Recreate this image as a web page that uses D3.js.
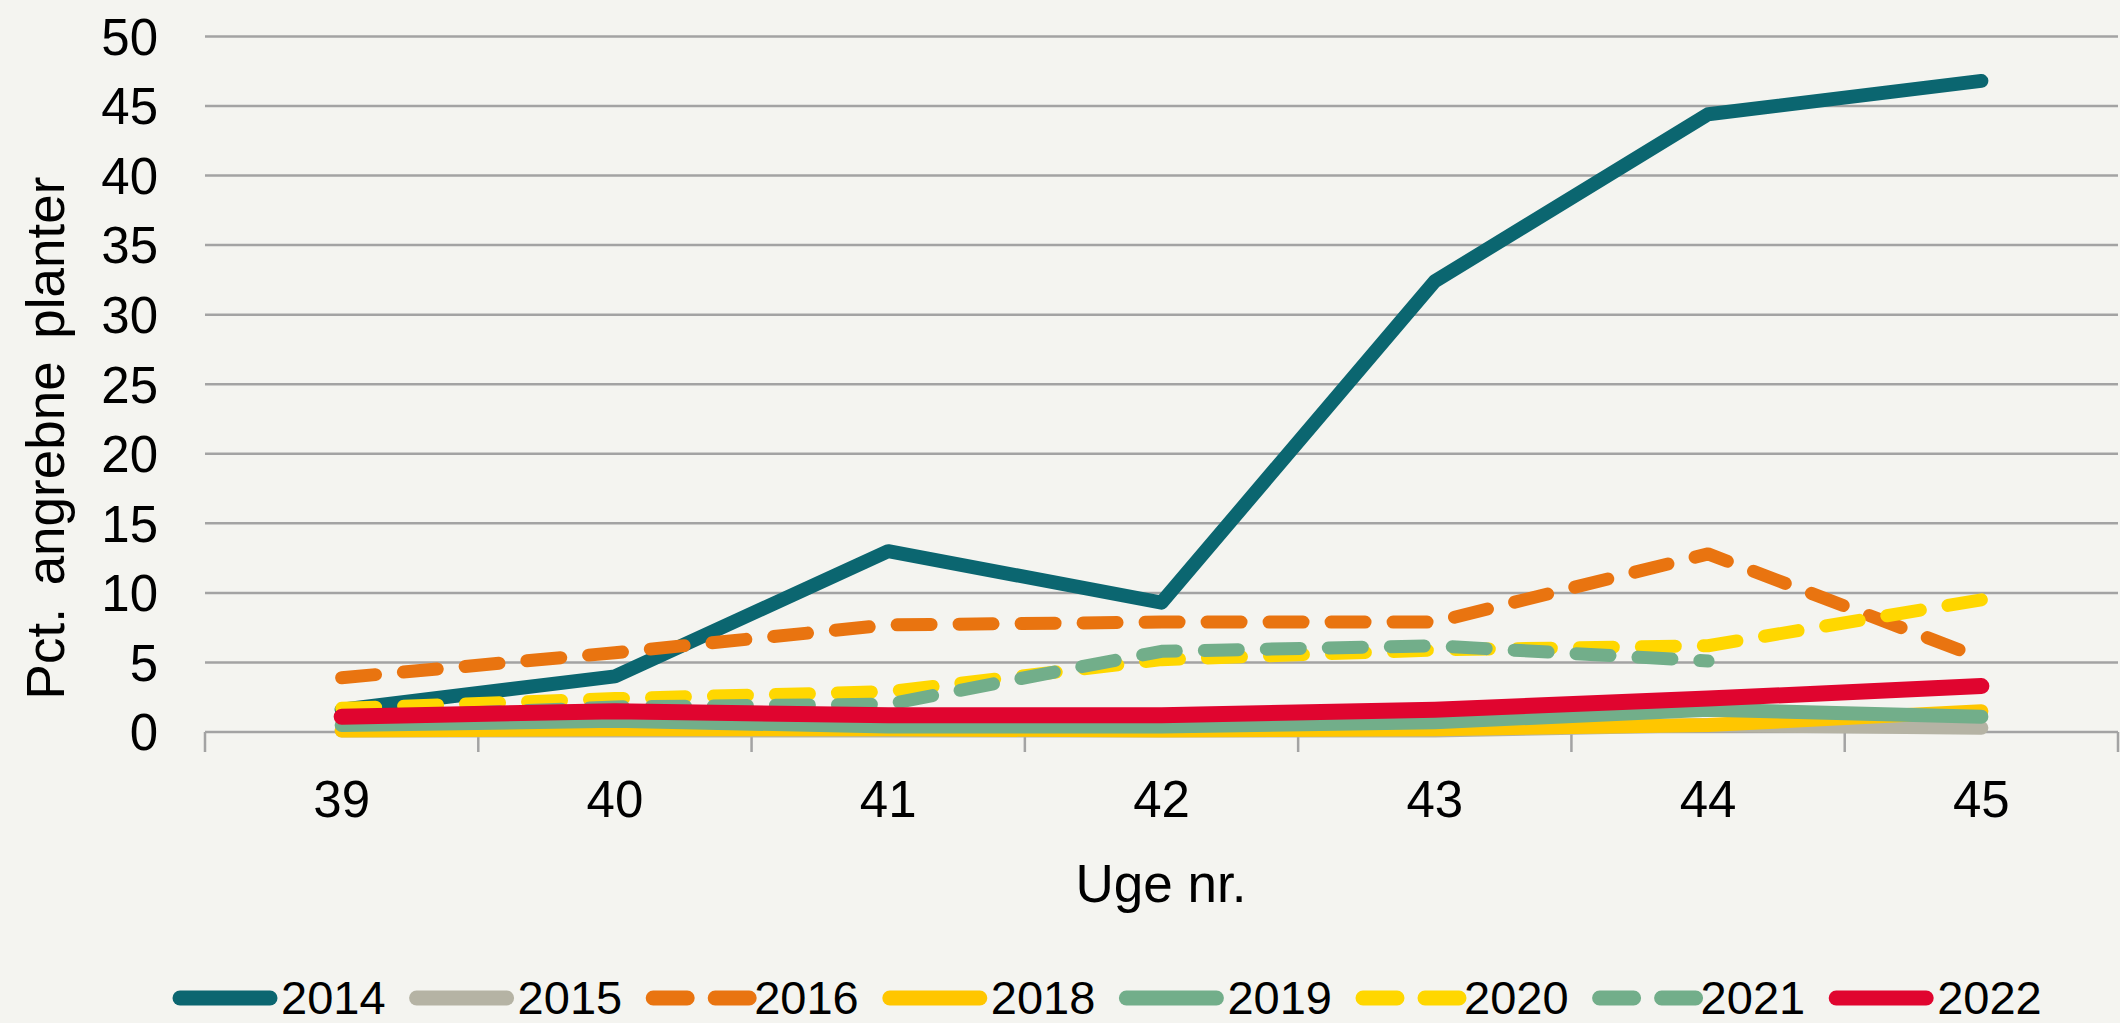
<!DOCTYPE html>
<html>
<head>
<meta charset="utf-8">
<script src="https://cdn.jsdelivr.net/npm/d3@7"></script>
<style>
  html, body { margin: 0; padding: 0; background: #f4f4f0; }
  svg { display: block; }
  text { font-family: "Liberation Sans", Arial, sans-serif; fill: #000; }
</style>
</head>
<body>
<svg width="2120" height="1023"></svg>
<script>

// uge numre (x-akse)
var weeks = ["39", "40", "41", "42", "43", "44", "45"];
var yTicks = [0, 5, 10, 15, 20, 25, 30, 35, 40, 45, 50];
var years = ["2014", "2015", "2016", "2018", "2019", "2020", "2021", "2022"];

// pct. angrebne planter pr. uge
var v2014 = [1.6, 4.0, 13.0, 9.3, 32.4, 44.4, 46.8];
var v2015 = [0.1, 0.1, 0.1, 0.1, 0.1, 0.5, 0.3];
var v2016 = [3.9, 5.7, 7.7, 7.9, 7.9, 12.8, 5.3];
var v2018 = [0.1, 0.2, 0.2, 0.1, 0.2, 0.5, 1.5];
var v2019 = [0.5, 0.8, 0.4, 0.4, 0.7, 1.6, 1.1];
var v2020 = [1.7, 2.4, 2.9, 5.2, 5.9, 6.2, 9.5];
var v2021 = [1.0, 1.8, 2.0, 5.8, 6.2, 5.1, null];
var v2022 = [1.1, 1.5, 1.2, 1.2, 1.6, 2.4, 3.3];

var colors = ["#0b6670", "#b5b3a4", "#e97410", "#ffc600", "#72ae8a", "#ffd700", "#72ae8a", "#e0052f"];
var dashed = [false, false, true, false, false, true, true, false];
var widths = [14, 14, 13, 14, 14, 13, 13, 16];

var series = [v2014, v2015, v2016, v2018, v2019, v2020, v2021, v2022].map(function (vals, i) {
    return {year: years[i], values: vals, color: colors[i], dash: dashed[i], w: widths[i]};
});

var svg = d3.select("svg"),
        pLeft = 205, pRight = 2118, pTop = 36.4, pBottom = 732;

var x = d3.scaleBand().domain(weeks).range([pLeft, pRight]).paddingInner(0).paddingOuter(0);
var y = d3.scaleLinear().domain([0, 50]).range([pBottom, pTop]);

// gitterlinjer
svg.append("g")
        .selectAll("line")
        .data(yTicks)
        .enter().append("line")
        .attr("x1", pLeft)
        .attr("x2", pRight)
        .attr("y1", function (d) { return y(d); })
        .attr("y2", function (d) { return y(d); })
        .style("stroke", "#a3a3a3")
        .style("stroke-width", 2.5);

// y-akse labels
svg.append("g")
        .selectAll("text")
        .data(yTicks)
        .enter().append("text")
        .attr("x", 158)
        .attr("y", function (d) { return y(d); })
        .attr("dy", "0.36em")
        .attr("text-anchor", "end")
        .style("font-size", "51px")
        .text(function (d) { return d; });

// x-akse tick marks ved kategorigrænser
var bounds = weeks.map(function (w) { return x(w); }).concat([pRight]);
svg.append("g")
        .selectAll("line")
        .data(bounds)
        .enter().append("line")
        .attr("x1", function (d) { return d; })
        .attr("x2", function (d) { return d; })
        .attr("y1", pBottom)
        .attr("y2", pBottom + 20)
        .style("stroke", "#a3a3a3")
        .style("stroke-width", 2.5);

svg.append("g")
        .selectAll("text")
        .data(weeks)
        .enter().append("text")
        .attr("x", function (d) { return x(d) + x.bandwidth() / 2; })
        .attr("y", 817)
        .attr("text-anchor", "middle")
        .style("font-size", "51px")
        .text(function (d) { return d; });

// akse titler
svg.append("text")
        .attr("x", 1161)
        .attr("y", 902)
        .attr("text-anchor", "middle")
        .style("font-size", "53px")
        .text("Uge nr.");

svg.append("text")
        .attr("transform", "translate(64,438) rotate(-90)")
        .attr("text-anchor", "middle")
        .style("font-size", "53px")
        .style("word-spacing", "8px")
        .text("Pct. angrebne planter");

// linjer
var line = d3.line()
        .defined(function (d) { return d != null; })
        .x(function (d, i) { return x(weeks[i]) + x.bandwidth() / 2; })
        .y(function (d) { return y(d); });

svg.append("g")
        .selectAll("path")
        .data(series)
        .enter().append("path")
        .attr("d", function (d) { return line(d.values); })
        .style("fill", "none")
        .style("stroke", function (d) { return d.color; })
        .style("stroke-width", function (d) { return d.w; })
        .style("stroke-linecap", "round")
        .style("stroke-linejoin", "round")
        .style("stroke-dasharray", function (d) { return d.dash ? "34,28" : null; });

// legend
var legend = svg.append("g")
        .selectAll("g")
        .data(series)
        .enter().append("g")
        .attr("transform", function (d, i) { return "translate(" + (180 + i * 236.6) + ",998)"; });

legend.append("line")
        .attr("x1", 0)
        .attr("x2", function (d) { return d.dash ? 96 : 90; })
        .attr("y1", 0)
        .attr("y2", 0)
        .style("stroke", function (d) { return d.color; })
        .style("stroke-width", 15)
        .style("stroke-linecap", "round")
        .style("stroke-dasharray", function (d) { return d.dash ? "34,28" : null; });

legend.append("text")
        .attr("x", 101)
        .attr("y", 0)
        .attr("dy", "0.35em")
        .style("font-size", "47px")
        .text(function (d) { return d.year; });

</script>
</body>
</html>
